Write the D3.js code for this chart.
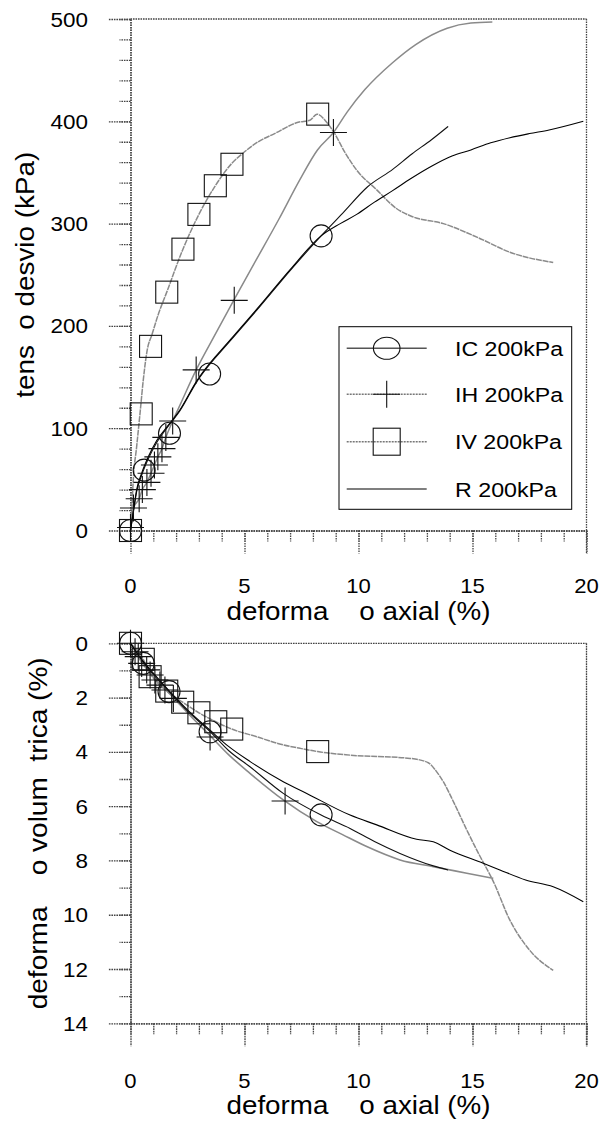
<!DOCTYPE html>
<html><head><meta charset="utf-8">
<script src="https://cdn.jsdelivr.net/npm/d3@7"></script>
<style>body{margin:0;background:#fff}svg{display:block}text{font-family:"Liberation Sans",Arial,sans-serif;fill:#000}</style>
</head><body><svg id="c" width="615" height="1126"></svg>
<script>
// ---------- data ----------
const xTicks = [0, 5, 10, 15, 20];
const stressTicks = [0, 100, 200, 300, 400, 500];
const volTicks = [0, 2, 4, 6, 8, 10, 12, 14];
const legendLabels = ["IC 200kPa", "IH 200kPa", "IV 200kPa", "R 200kPa"];
const xLabel = "deforma    o axial (%)";
const stressLabel = "tens  o desvio (kPa)";
const volLabel = "deforma    o volum  trica (%)";

// deviator stress (kPa) vs axial strain (%)
const icStress = [[0,0],[0.12,17],[0.27,38],[0.49,54],[0.78,70],[1.15,86],[1.59,100],[2.17,117],[2.9,145],[3.05,150],[4.4,186],[5.68,219],[7.0,254],[8.36,288],[9.3,310],[10.4,336],[11.5,353],[12.34,368],[13.2,382],[13.93,395]];
const icStressMarks = [[0,0],[0.6,59],[1.71,95],[3.47,153],[8.36,288]];
const ihStress = [[0,0],[0.13,22],[0.38,31],[0.52,40],[0.72,47],[0.9,56],[1.05,64],[1.2,72],[1.38,80],[1.55,91],[1.85,107],[2.2,124],[2.88,157],[3.5,183],[4.55,226],[5.5,264],[6.5,304],[7.43,343],[8.2,372],[8.9,389],[9.5,409],[10.28,431],[11.48,457],[12.51,475],[13.89,491],[14.93,496],[15.87,497]];
const ihStressMarks = [[0,3],[0.13,22],[0.38,31],[0.52,40],[0.72,47],[0.9,56],[1.05,64],[1.2,72],[1.38,80],[1.55,91],[1.85,107],[2.88,157],[4.55,225],[8.9,389]];
const ivStress = [[0,0],[0.05,17],[0.12,49],[0.27,82],[0.42,115],[0.56,147],[0.73,176],[0.95,192],[1.2,210],[1.59,233],[2.3,275],[3.0,309],[3.72,337],[4.45,359],[4.94,369],[5.6,380],[6.32,388],[7.35,399],[7.87,401],[8.18,407],[8.64,398],[8.9,390],[9.42,369],[9.93,352],[10.8,333],[11.65,315],[12.34,307],[13.72,300],[15.27,286],[16.64,272],[18.54,262]];
const ivStressMarks = [[0,0],[0.47,114],[0.88,180],[1.59,233],[2.3,275],[3.0,309],[3.72,337],[4.45,358],[8.21,407]];
const rStress = [[0,0],[0.12,18],[0.27,40],[0.49,56],[0.78,72],[1.15,88],[1.59,101],[2.17,118],[2.9,146],[3.05,151],[4.4,187],[5.68,220],[7.0,255],[8.36,288],[9.2,300],[9.92,309],[10.7,321],[11.48,332],[12.3,344],[13.2,356],[14.1,366],[14.93,372],[15.8,379],[16.64,384],[17.5,388],[18.36,391.5],[19.86,400]];

// volumetric strain (%) vs axial strain (%)
const icVol = [[0,0],[0.56,0.7],[1.0,1.15],[1.69,1.78],[2.5,2.5],[3.49,3.25],[4.3,3.95],[5.24,4.55],[6.7,5.53],[8.36,6.33],[9.63,6.82],[10.7,7.3],[11.82,7.74],[13.28,8.2],[13.93,8.35]];
const icVolMarks = [[0,0],[0.56,0.74],[1.69,1.78],[3.49,3.26],[8.36,6.32]];
const ihVol = [[0,0],[0.2,0.3],[0.49,0.7],[0.86,1.1],[1.29,1.5],[1.88,2.0],[2.6,2.65],[3.49,3.4],[4.3,4.1],[5.24,4.79],[6.7,5.77],[8.17,6.57],[9.3,7.05],[10.36,7.49],[11.82,7.98],[13.28,8.23],[14.75,8.47],[15.91,8.66]];
const ihVolMarks = [[0,0],[0.2,0.31],[0.34,0.49],[0.49,0.74],[0.71,0.98],[0.86,1.17],[1.07,1.35],[1.29,1.54],[1.51,1.72],[1.88,2.03],[3.49,3.45],[6.78,5.81]];
const ivVol = [[0,0],[0.56,0.59],[0.86,1.1],[1.59,1.76],[2.29,2.17],[3.0,2.56],[3.74,2.89],[4.44,3.16],[5.53,3.44],[6.5,3.7],[7.44,3.87],[8.21,3.99],[9.63,4.12],[12.26,4.24],[13.06,4.4],[13.4,4.7],[13.72,5.1],[14.2,5.9],[14.75,6.88],[15.3,7.8],[15.9,8.75],[16.64,10.2],[17.5,11.3],[18.54,12.05]];
const ivVolMarks = [[0,0],[0.56,0.59],[0.86,1.23],[1.59,1.76],[2.29,2.17],[3.0,2.56],[3.74,2.89],[4.44,3.16],[8.21,3.99]];
const rVol = [[0,0],[0.5,0.6],[1.0,1.1],[1.7,1.75],[2.5,2.45],[3.49,3.2],[4.3,3.8],[5.25,4.36],[6.7,5.1],[7.73,5.53],[9.63,6.33],[10.8,6.69],[12.55,7.22],[13.28,7.31],[14.01,7.62],[15.47,8.1],[16.2,8.35],[17.33,8.72],[18.54,8.97],[19.86,9.52]];

// ---------- drawing ----------
const svg = d3.select("#c");
const x = d3.scaleLinear([0, 20], [130.5, 586.5]);
const yTop = d3.scaleLinear([0, 500], [530.5, 19]);
const yBot = d3.scaleLinear([0, 14], [643.3, 1023.3]);
const AX = "#444", DASH = "1.6,0.9";

function txt(g, px, py, s, size, kx, anchor, rot, len) {
  const t = g.append("text")
    .attr("transform", `translate(${px},${py}) rotate(${rot || 0}) scale(${kx},1)`)
    .attr("font-size", size).attr("text-anchor", anchor)
    .attr("xml:space", "preserve").style("white-space", "pre").text(s);
  if (len) t.attr("textLength", len).attr("lengthAdjust", "spacingAndGlyphs");
  return t;
}
function styleAxis(sel) {
  sel.selectAll("path,line").attr("stroke", AX).attr("stroke-width", 1.3).attr("stroke-dasharray", DASH);
  sel.selectAll("text").remove();
}

function frame(y, majors, minors, yl, tickBase, xLabelBase, ylBaseX, ylLen) {
  const g = svg.append("g");
  const [y0, y1] = y.range();
  const yb = Math.max(y0, y1), yt = Math.min(y0, y1);
  g.append("g").attr("transform", `translate(${x(0)},0)`)
    .call(d3.axisLeft(y).tickValues(minors).tickSize(11).tickSizeOuter(0).tickFormat(""))
    .call(styleAxis);
  g.append("g").attr("transform", `translate(${x(0)},0)`)
    .call(d3.axisLeft(y).tickValues(majors).tickSize(22.5).tickSizeOuter(0).tickFormat(""))
    .call(styleAxis);
  const xMinor = d3.range(0, 21, 1);
  g.append("g").attr("transform", `translate(0,${yb})`)
    .call(d3.axisBottom(x).tickValues(xMinor).tickSize(11).tickSizeOuter(0).tickFormat(""))
    .call(styleAxis);
  g.append("g").attr("transform", `translate(0,${yb})`)
    .call(d3.axisBottom(x).tickValues(xTicks).tickSize(23).tickSizeOuter(0).tickFormat(""))
    .call(styleAxis);
  g.append("line").attr("x1", x(0)).attr("x2", x(20)).attr("y1", yt).attr("y2", yt)
    .attr("stroke", AX).attr("stroke-width", 1.3).attr("stroke-dasharray", DASH);
  g.append("line").attr("x1", x(20)).attr("x2", x(20)).attr("y1", yt).attr("y2", yb + 23)
    .attr("stroke", AX).attr("stroke-width", 1.3).attr("stroke-dasharray", DASH);
  majors.forEach(v => txt(g, 88, y(v) + 7.5, String(v), 21, 1.07, "end"));
  xTicks.forEach(v => txt(g, x(v), tickBase, String(v), 21, 1.05, "middle"));
  txt(g, (x(0) + x(20)) / 2, xLabelBase, xLabel, 26, 1, "middle", 0, 264);
  txt(g, ylBaseX, (yt + yb) / 2, yl, 25, 1, "middle", -90, ylLen);
}

frame(yTop, stressTicks, d3.range(0, 501, 20), stressLabel, 593, 620, 34, 246);
frame(yBot, volTicks, d3.range(0, 15, 1), volLabel, 1088, 1114, 46.5, 352);

function series(y, pts, color, width, dash) {
  svg.append("path").datum(pts)
    .attr("d", d3.line().x(d => x(d[0])).y(d => y(d[1])).curve(d3.curveMonotoneX))
    .attr("fill", "none").attr("stroke", color).attr("stroke-width", width)
    .attr("stroke-dasharray", dash || null);
}
function circles(y, pts, r) {
  svg.append("g").selectAll("circle").data(pts).join("circle")
    .attr("cx", d => x(d[0])).attr("cy", d => y(d[1])).attr("r", r)
    .attr("fill", "none").attr("stroke", "#111").attr("stroke-width", 1.1);
}
function squares(y, pts, s) {
  svg.append("g").selectAll("rect").data(pts).join("rect")
    .attr("x", d => x(d[0]) - s / 2).attr("y", d => y(d[1]) - s / 2).attr("width", s).attr("height", s)
    .attr("fill", "none").attr("stroke", "#111").attr("stroke-width", 1.1);
}
function pluses(y, pts, s) {
  svg.append("g").selectAll("path").data(pts).join("path")
    .attr("d", d => { const cx = x(d[0]), cy = y(d[1]), h = s / 2; return `M${cx - h},${cy}H${cx + h}M${cx},${cy - h}V${cy + h}`; })
    .attr("fill", "none").attr("stroke", "#111").attr("stroke-width", 1.1);
}

// top chart
series(yTop, ivStress, "#8a8a8a", 1.5, "6,0.8");
series(yTop, ihStress, "#8a8a8a", 1.5);
series(yTop, icStress, "#111", 1.1);
series(yTop, rStress, "#000", 1.1);
circles(yTop, icStressMarks, 11);
pluses(yTop, ihStressMarks, 27);
squares(yTop, ivStressMarks, 22);

// bottom chart
series(yBot, ivVol, "#8a8a8a", 1.5, "6,0.8");
series(yBot, ihVol, "#8a8a8a", 1.6);
series(yBot, icVol, "#111", 1.1);
series(yBot, rVol, "#000", 1.1);
circles(yBot, icVolMarks, 11);
pluses(yBot, ihVolMarks, 27);
squares(yBot, ivVolMarks, 22);

// legend
const lg = svg.append("g");
lg.append("rect").attr("x", 339).attr("y", 326.7).attr("width", 232.7).attr("height", 182.6)
  .attr("fill", "#fff").attr("stroke", "#000").attr("stroke-width", 1);
const rowsY = [348.3, 394.3, 441.7, 489];
const lineStyles = [["#555", 1.6, null], ["#777", 1.5, "2,1"], ["#777", 1.5, "2,1"], ["#000", 1.1, null]];
const textLens = [108, 108, 107, 102];
legendLabels.forEach((lab, i) => {
  const cy = rowsY[i];
  lg.append("line").attr("x1", 346.7).attr("x2", 426.7).attr("y1", cy).attr("y2", cy)
    .attr("stroke", lineStyles[i][0]).attr("stroke-width", lineStyles[i][1]).attr("stroke-dasharray", lineStyles[i][2]);
  if (i === 0) lg.append("ellipse").attr("cx", 386.7).attr("cy", cy).attr("rx", 13.3).attr("ry", 11)
    .attr("fill", "none").attr("stroke", "#111").attr("stroke-width", 1.1);
  if (i === 1) lg.append("path").attr("d", `M373,${cy}H400M386.7,${cy - 13.5}V${cy + 13.5}`)
    .attr("fill", "none").attr("stroke", "#111").attr("stroke-width", 1.1);
  if (i === 2) lg.append("rect").attr("x", 373.2).attr("y", cy - 13.5).attr("width", 27).attr("height", 27)
    .attr("fill", "none").attr("stroke", "#111").attr("stroke-width", 1.1);
  txt(lg, 455, cy + 7.5, lab, 20, 1, "start", 0, textLens[i]);
});
</script></body></html>
